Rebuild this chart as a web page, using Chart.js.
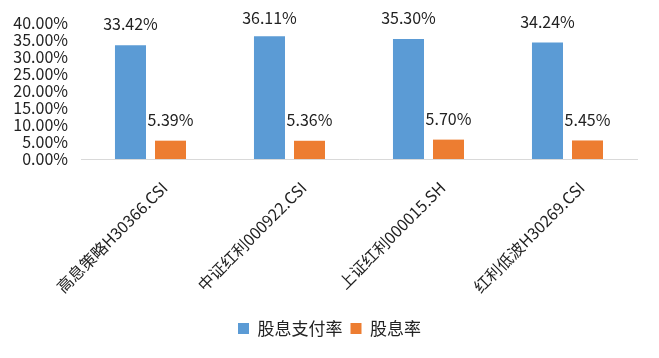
<!DOCTYPE html>
<html>
<head>
<meta charset="utf-8">
<script src="https://cdn.jsdelivr.net/npm/chart.js@4/dist/chart.umd.min.js"></script>
<style>
html,body{margin:0;padding:0;background:#fff;}
#wrap{width:659px;height:358px;position:relative;}
</style>
</head>
<body>
<div id="wrap"><canvas id="c" width="659" height="358"></canvas></div>
<script>
const categories = ["高息策略H30366.CSI", "中证红利000922.CSI", "上证红利000015.SH", "红利低波H30269.CSI"];
const payoutRatio = [33.42, 36.11, 35.30, 34.24];
const dividendYield = [5.39, 5.36, 5.70, 5.45];
const seriesNames = ["股息支付率", "股息率"];
const yTicks = [0, 5, 10, 15, 20, 25, 30, 35, 40];

const FONT = "'Noto Sans CJK SC', 'Noto Sans', sans-serif";
const TEXT = "#222222";

const valueLabels = {
  id: 'valueLabels',
  afterDatasetsDraw(chart) {
    const ctx = chart.ctx;
    ctx.save();
    ctx.font = "16px " + FONT;
    ctx.fillStyle = TEXT;
    ctx.textAlign = 'center';
    ctx.textBaseline = 'middle';
    chart.data.datasets.forEach((ds, di) => {
      const meta = chart.getDatasetMeta(di);
      meta.data.forEach((bar, i) => {
        const y = Math.max(bar.y - 21, 18);
        ctx.fillText(ds.data[i].toFixed(2) + '%', bar.x, y);
      });
    });
    ctx.restore();
  }
};

const legendShift = {
  id: 'legendShift',
  afterLayout(chart) {
    const lg = chart.legend;
    if (lg) { lg.left += 11; lg.right += 11; lg.adjustHitBoxes && lg.adjustHitBoxes(); }
  }
};

new Chart(document.getElementById('c'), {
  type: 'bar',
  data: {
    labels: categories,
    datasets: [
      { label: seriesNames[0], data: payoutRatio, backgroundColor: '#5B9BD5' },
      { label: seriesNames[1], data: dividendYield, backgroundColor: '#ED7D31' }
    ]
  },
  options: {
    responsive: false,
    animation: false,
    devicePixelRatio: 1,
    categoryPercentage: 0.576,
    barPercentage: 0.775,
    layout: { padding: { top: 23, right: 22, bottom: 11, left: 0 } },
    plugins: {
      tooltip: { enabled: false },
      legend: {
        position: 'bottom',
        labels: {
          boxWidth: 11, boxHeight: 11, padding: 8,
          color: TEXT,
          font: { family: FONT, size: 17 }
        }
      }
    },
    scales: {
      x: {
        grid: { display: false, drawTicks: false },
        border: { display: true, color: '#D9D9D9', width: 1 },
        ticks: {
          autoSkip: false, minRotation: 45, maxRotation: 45,
          labelOffset: 14, padding: 19,
          color: TEXT,
          font: { family: FONT, size: 16 }
        },
        afterFit(scale) { scale.height = 153; }
      },
      y: {
        min: 0, max: 40,
        grid: { display: false, drawTicks: false },
        border: { display: false },
        afterBuildTicks(scale) { scale.ticks = yTicks.map(v => ({ value: v })); },
        ticks: {
          autoSkip: false,
          padding: 13,
          color: TEXT,
          font: { family: FONT, size: 16 },
          callback: v => v.toFixed(2) + '%'
        },
        afterFit(scale) { scale.width = 81; }
      }
    }
  },
  plugins: [valueLabels, legendShift]
});
</script>
</body>
</html>
